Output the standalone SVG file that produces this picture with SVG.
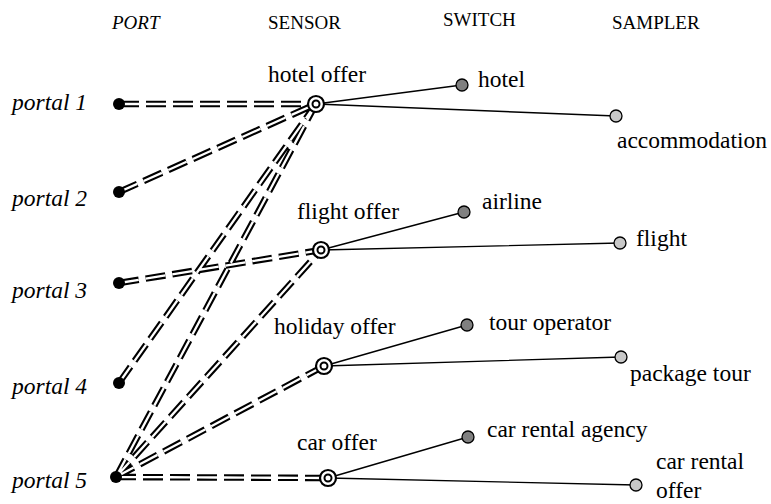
<svg xmlns="http://www.w3.org/2000/svg" width="771" height="504" viewBox="0 0 771 504">
  <style>
    text { font-family: "Liberation Serif", "Times New Roman", serif; font-size: 23.5px; fill: #000; }
    .it { font-style: italic; }
    .hdr { font-size: 19px; }
    .link-outer { stroke: #000; stroke-width: 6.5; stroke-dasharray: 20 7; fill: none; }
    .link-inner { stroke: #fff; stroke-width: 2.3; stroke-dasharray: 20 7; fill: none; }
    .wire { stroke: #000; stroke-width: 1.4; fill: none; }
    .port { fill: #000; }
    .sensor-out { fill: #fff; stroke: #000; stroke-width: 2.2; }
    .sensor-in { fill: #fff; stroke: #000; stroke-width: 2; }
    .switch { fill: #808080; stroke: #000; stroke-width: 1.3; }
    .sampler { fill: #c8c8c8; stroke: #000; stroke-width: 1.3; }
  </style>

  <!-- column headings -->
  <g id="headings">
    <text class="hdr it" x="112" y="29">PORT</text>
    <text class="hdr" x="268" y="29">SENSOR</text>
    <text class="hdr" x="443" y="26">SWITCH</text>
    <text class="hdr" x="612" y="29">SAMPLER</text>
  </g>

  <!-- connectors: double dashed port links and solid sensor wires -->
  <g id="connectors">
    <g id="port-links">
      <path class="link-outer" d="M119 104 L316 104 M119 192 L316 104 M119 283 L321 250 M119 383 L316 104 M116 477 L316 104 M116 477 L321 250 M116 477 L324 366 M116 477 L328 478"/>
      <path class="link-inner" d="M119 104 L316 104 M119 192 L316 104 M119 283 L321 250 M119 383 L316 104 M116 477 L316 104 M116 477 L321 250 M116 477 L324 366 M116 477 L328 478"/>
    </g>
    <g id="sensor-wires">
      <path class="wire" d="M316 104 L462 85 M316 104 L616 116"/>
      <path class="wire" d="M321 250 L464 212 M321 250 L620 243"/>
      <path class="wire" d="M324 366 L467 325 M324 366 L621 357"/>
      <path class="wire" d="M328 478 L468 437 M328 478 L636 485"/>
    </g>
  </g>

  <!-- ports -->
  <g id="portal1"><circle class="port" cx="119" cy="104" r="6"/><text class="it" x="12" y="110">portal 1</text></g>
  <g id="portal2"><circle class="port" cx="119" cy="192" r="6"/><text class="it" x="12" y="206">portal 2</text></g>
  <g id="portal3"><circle class="port" cx="119" cy="283" r="6"/><text class="it" x="12" y="298">portal 3</text></g>
  <g id="portal4"><circle class="port" cx="119" cy="383" r="6"/><text class="it" x="12" y="394">portal 4</text></g>
  <g id="portal5"><circle class="port" cx="116" cy="477" r="6"/><text class="it" x="12" y="488">portal 5</text></g>

  <!-- sensors -->
  <g id="sensor-hotel"><circle class="sensor-out" cx="316" cy="104" r="8"/><circle class="sensor-in" cx="316" cy="104" r="3.5"/><text x="268" y="82">hotel offer</text></g>
  <g id="sensor-flight"><circle class="sensor-out" cx="321" cy="250" r="8"/><circle class="sensor-in" cx="321" cy="250" r="3.5"/><text x="297" y="219">flight offer</text></g>
  <g id="sensor-holiday"><circle class="sensor-out" cx="324" cy="366" r="8"/><circle class="sensor-in" cx="324" cy="366" r="3.5"/><text x="274" y="334">holiday offer</text></g>
  <g id="sensor-car"><circle class="sensor-out" cx="328" cy="478" r="8"/><circle class="sensor-in" cx="328" cy="478" r="3.5"/><text x="297" y="450">car offer</text></g>

  <!-- switches -->
  <g id="switch-hotel"><circle class="switch" cx="462" cy="85" r="6"/><text x="478" y="87">hotel</text></g>
  <g id="switch-airline"><circle class="switch" cx="464" cy="212" r="6"/><text x="482" y="209">airline</text></g>
  <g id="switch-tour"><circle class="switch" cx="467" cy="325" r="6"/><text x="489" y="330">tour operator</text></g>
  <g id="switch-car"><circle class="switch" cx="468" cy="437" r="6"/><text x="487" y="437">car rental agency</text></g>

  <!-- samplers -->
  <g id="sampler-accommodation"><circle class="sampler" cx="616" cy="116" r="6"/><text x="617" y="148">accommodation</text></g>
  <g id="sampler-flight"><circle class="sampler" cx="620" cy="243" r="6"/><text x="636" y="246">flight</text></g>
  <g id="sampler-package"><circle class="sampler" cx="621" cy="357" r="6"/><text x="630" y="381">package tour</text></g>
  <g id="sampler-car"><circle class="sampler" cx="636" cy="485" r="6"/><text x="656" y="469">car rental</text><text x="656" y="498">offer</text></g>
</svg>
